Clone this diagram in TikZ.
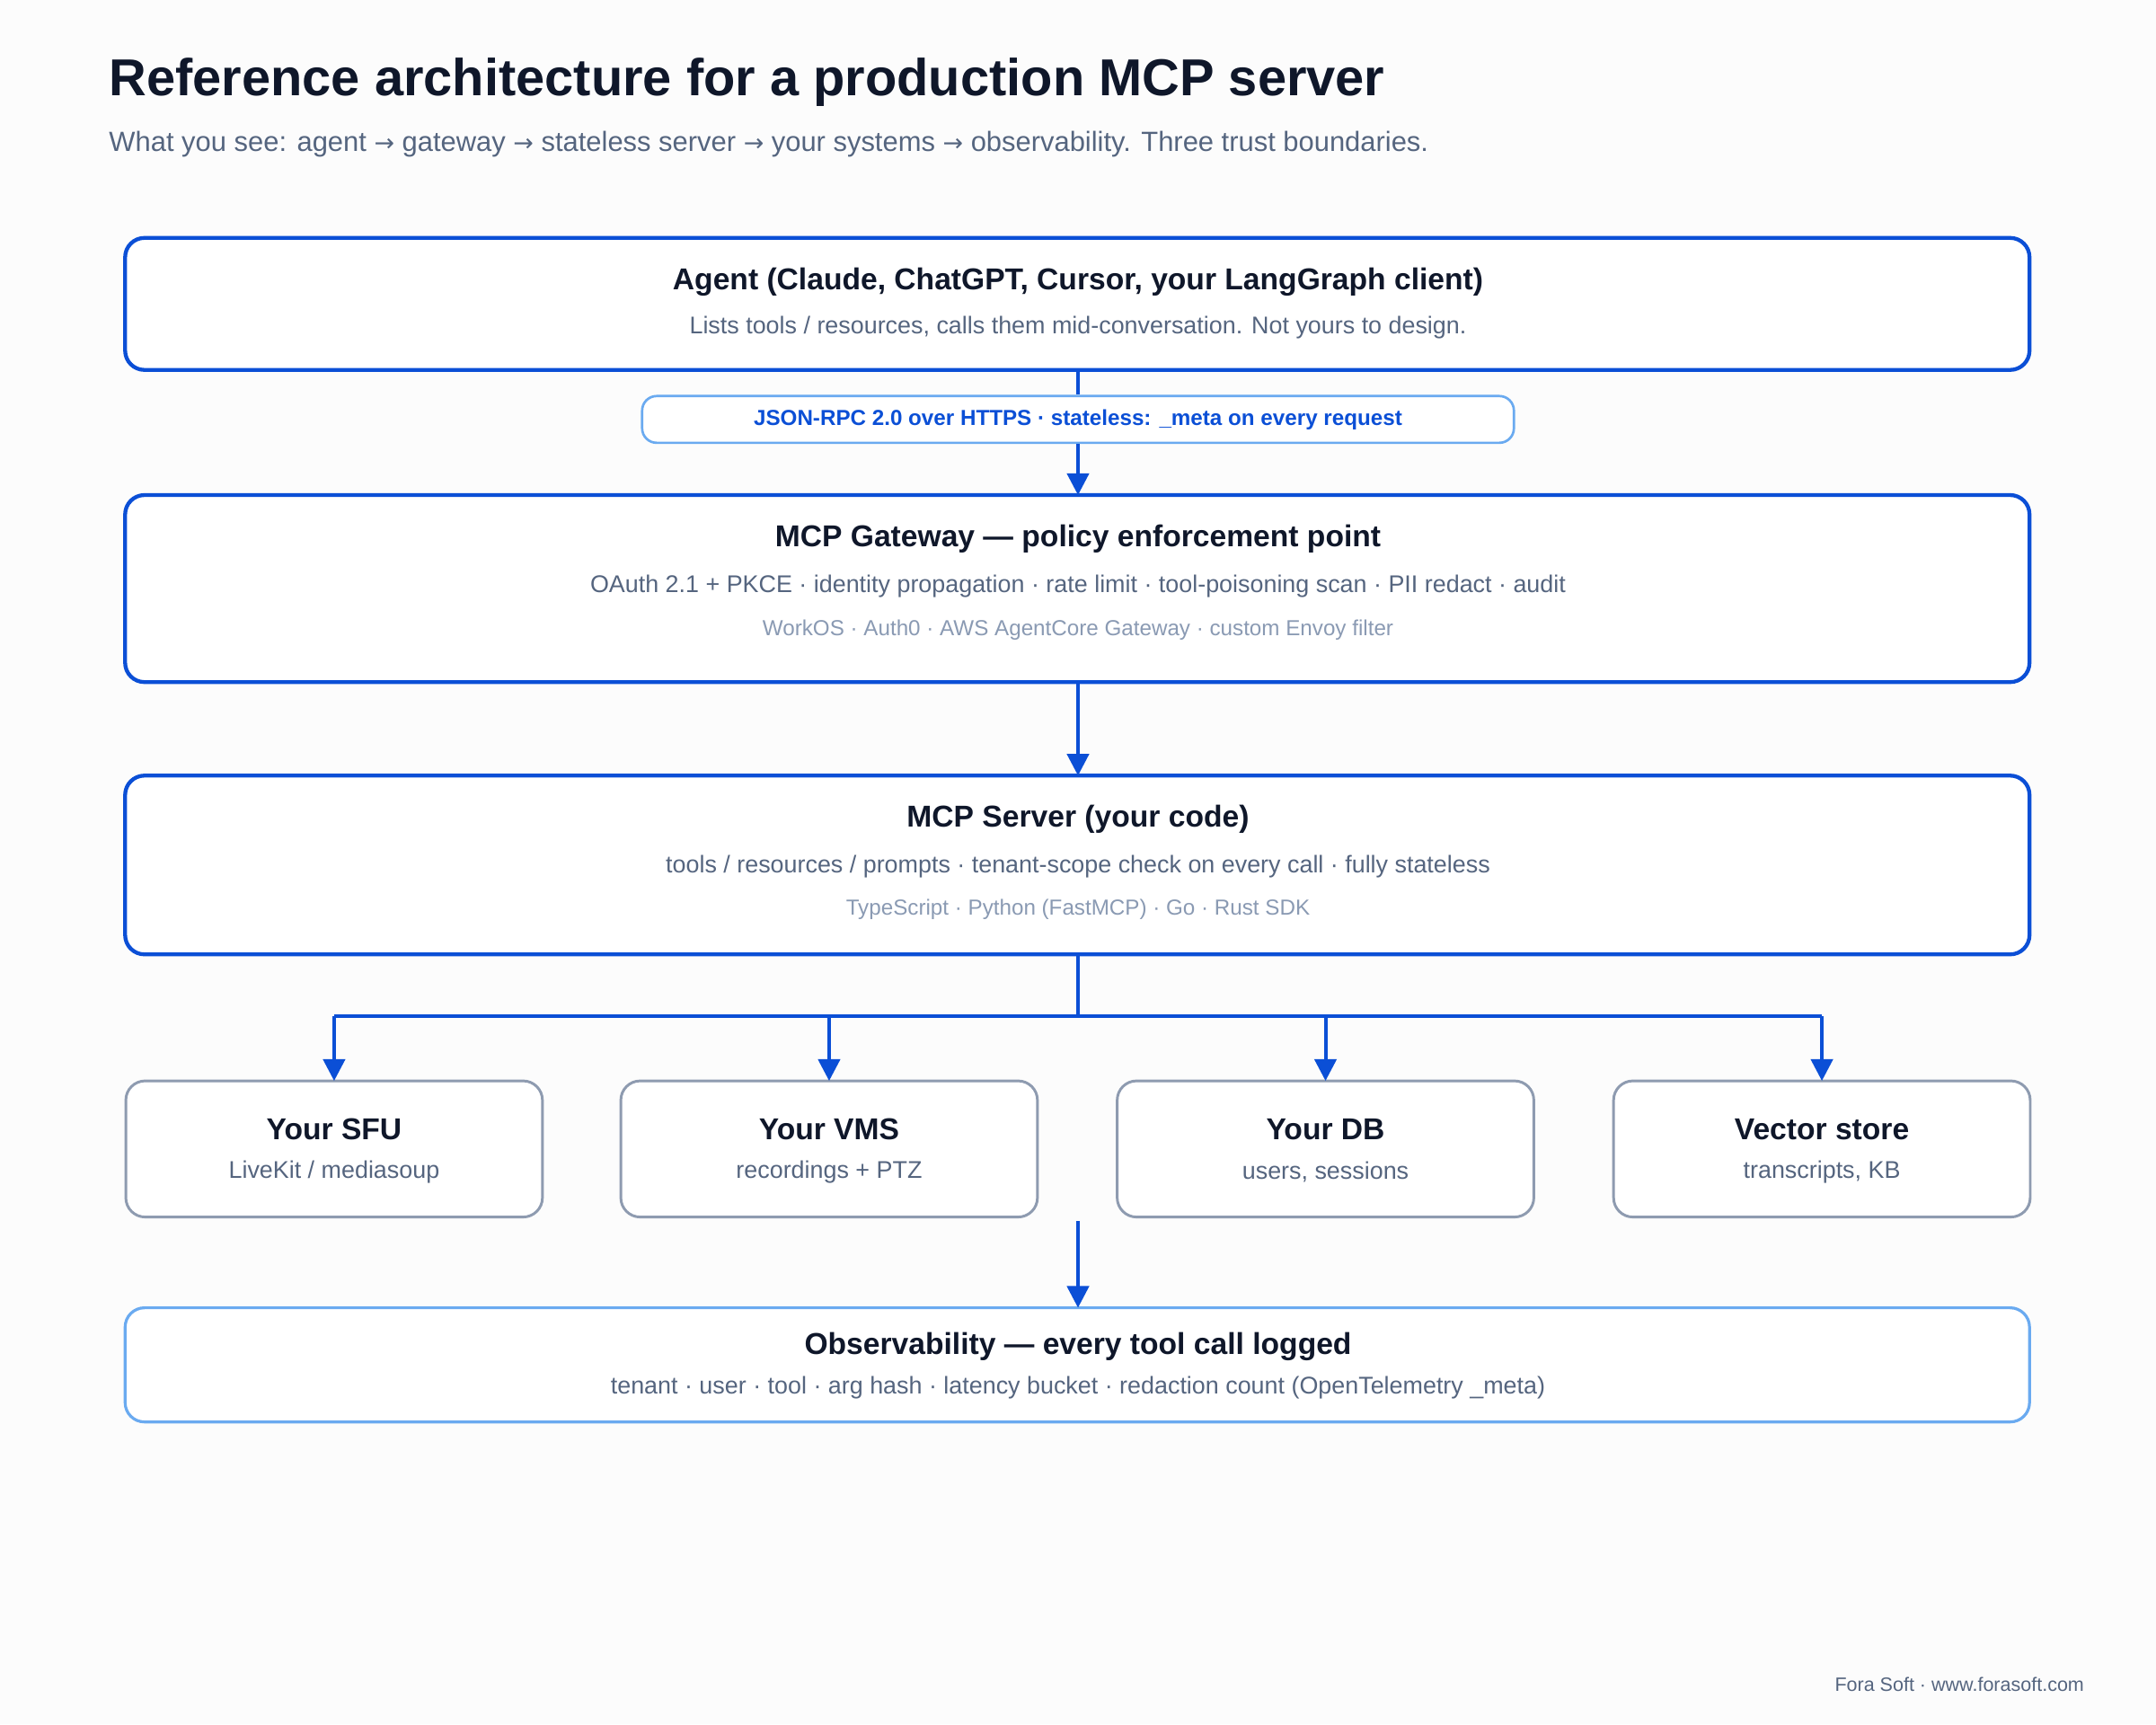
\documentclass[tikz,border=0pt]{standalone}
\usepackage{fontspec}
\setmainfont{Liberation Sans}
\newfontfamily\symfont{DejaVu Sans}
\usetikzlibrary{arrows.meta, positioning}
\definecolor{ink}{HTML}{0F172A}
\definecolor{muted}{HTML}{55657F}
\definecolor{faint}{HTML}{8A9AB3}
\definecolor{accent}{HTML}{0B4FD6}
\definecolor{soft}{HTML}{6AAAF0}
\definecolor{edge}{HTML}{8E9BB0}
\newcommand{\rarr}{{\symfont\fontsize{10}{12}\selectfont →}}
\tikzset{
  layer/.style={draw=accent, line width=1.6pt, rounded corners=8pt, fill=white},
  lightlayer/.style={draw=soft, line width=1.2pt, rounded corners=8pt, fill=white},
  sysbox/.style={draw=edge, line width=1.1pt, rounded corners=8pt, fill=white},
  head/.style={font=\bfseries\fontsize{12.5}{15}\selectfont, text=ink},
  sub/.style={font=\fontsize{10}{12}\selectfont, text=muted},
  tiny/.style={font=\fontsize{9}{11}\selectfont, text=faint},
  arrow/.style={draw=accent, line width=1.5pt, -{Triangle[length=9pt,width=9pt]}},
  wire/.style={draw=accent, line width=1.5pt}
}
\begin{document}
\begin{tikzpicture}[x=0.02cm, y=-0.02cm]
\useasboundingbox[fill=white!98!gray] (0,0) rectangle (1568,1254);
% Title
\node[anchor=west, inner sep=0pt, font=\bfseries\fontsize{21.5}{26}\selectfont, text=ink] (title) at (79,60) {Reference architecture for a production MCP server};
\node[anchor=west, inner sep=0pt, font=\fontsize{11.5}{14}\selectfont, text=muted] (subtitle) at (79,105) {What you see: agent \rarr{} gateway \rarr{} stateless server \rarr{} your systems \rarr{} observability. Three trust boundaries.};
% Agent
\draw[layer] (91,173) rectangle (1476,269);
\coordinate (agentb) at (784,269);
\node[head] (agent) at (784,205) {Agent (Claude, ChatGPT, Cursor, your LangGraph client)};
\node[sub] (agents) at (784,238) {Lists tools / resources, calls them mid-conversation. Not yours to design.};
% Protocol label
\node[draw=soft, line width=1pt, rounded corners=6pt, fill=white, minimum width=634*0.02cm, minimum height=34*0.02cm, font=\bfseries\fontsize{9}{11}\selectfont, text=accent] (rpc) at (784,305) {JSON-RPC 2.0 over HTTPS · stateless: \_meta on every request};
\draw[wire] (agentb) -- (rpc.north);
% Gateway
\draw[layer] (91,360) rectangle (1476,496);
\coordinate (gwt) at (784,360);
\coordinate (gwb) at (784,496);
\node[head] (gw) at (784,392) {MCP Gateway — policy enforcement point};
\node[sub] (gws) at (784,426) {OAuth 2.1 + PKCE · identity propagation · rate limit · tool-poisoning scan · PII redact · audit};
\node[tiny] (gwt2) at (784,458) {WorkOS · Auth0 · AWS AgentCore Gateway · custom Envoy filter};
\draw[arrow] (rpc.south) -- (gwt);
% Server
\draw[layer] (91,564) rectangle (1476,694);
\coordinate (srvt) at (784,564);
\coordinate (srvb) at (784,694);
\node[head] (srv) at (784,596) {MCP Server (your code)};
\node[sub] (srvs) at (784,630) {tools / resources / prompts · tenant-scope check on every call · fully stateless};
\node[tiny] (srvt2) at (784,661) {TypeScript · Python (FastMCP) · Go · Rust SDK};
\draw[arrow] (gwb) -- (srvt);
% Systems
\coordinate (bus) at (784,739);
\draw[wire] (srvb) -- (bus);
\draw[wire] (243,739) -- (1325,739);
\foreach \cx/\nm/\hd/\sb in {243/sfu/{Your SFU}/{LiveKit \slash{} mediasoup}, 603/vms/{Your VMS}/{recordings + PTZ}, 964/db/{Your DB}/{users, sessions}, 1325/vec/{Vector store}/{transcripts, KB}} {
  \draw[sysbox] (\cx-151.5,786) rectangle (\cx+151.5,885);
  \coordinate (\nm) at (\cx,786);
  \node[head] (\nm h) at (\cx,821) {\hd};
  \node[sub] (\nm s) at (\cx,852) {\sb};
  \draw[arrow] (\cx,739) -- (\nm);
}
% Observability
\coordinate (obsa) at (784,888);
\draw[lightlayer] (91,951) rectangle (1476,1034);
\coordinate (obst) at (784,951);
\node[head] (obs) at (784,979) {Observability — every tool call logged};
\node[sub] (obss) at (784,1009) {tenant · user · tool · arg hash · latency bucket · redaction count (OpenTelemetry \_meta)};
\draw[arrow] (obsa) -- (obst);
% Footer
\node[anchor=east, inner sep=0pt, font=\fontsize{8}{10}\selectfont, text=muted] (foot) at (1516,1225) {Fora Soft · www.forasoft.com};
\end{tikzpicture}
\end{document}
